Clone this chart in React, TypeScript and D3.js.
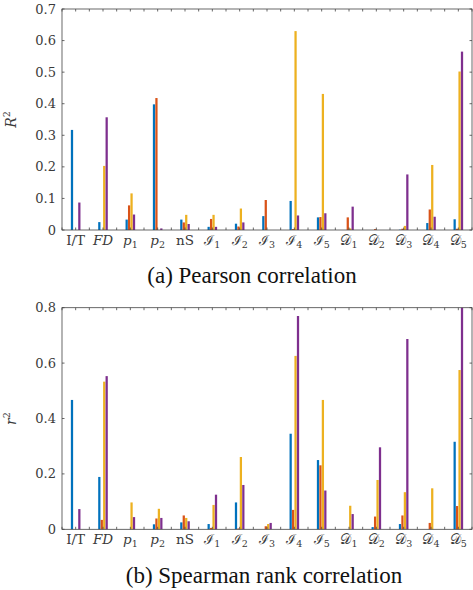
import * as d3 from 'd3';
import React from 'react';

const categories = ['I/T', 'FD', 'p1', 'p2', 'nS', 'I1', 'I2', 'I3', 'I4', 'I5', 'D1', 'D2', 'D3', 'D4', 'D5'];
const seriesKeys = ['s1', 's2', 's3', 's4'];
const colors = ['#0072BD', '#D95319', '#EDB120', '#7E2F8E'];

// Pearson R^2
const pearsonS1 = [0.317, 0.025, 0.033, 0.398, 0.033, 0.010, 0.020, 0.044, 0.092, 0.040, 0, 0, 0.001, 0.022, 0.034];
const pearsonS2 = [0, 0, 0.078, 0.418, 0.024, 0.035, 0.011, 0.095, 0.003, 0.041, 0.040, 0.003, 0.004, 0.065, 0.004];
const pearsonS3 = [0, 0.203, 0.116, 0, 0.048, 0.048, 0.068, 0, 0.630, 0.431, 0.005, 0, 0.013, 0.206, 0.502];
const pearsonS4 = [0.087, 0.357, 0.049, 0.005, 0.019, 0.010, 0.024, 0, 0.046, 0.053, 0.074, 0, 0.176, 0.042, 0.565];
const pearsonTicks = [0, 0.1, 0.2, 0.3, 0.4, 0.5, 0.6, 0.7];

// Spearman r^2
const spearmanS1 = [0.467, 0.189, 0, 0.018, 0.025, 0.019, 0.097, 0, 0.345, 0.250, 0, 0.008, 0.019, 0, 0.316];
const spearmanS2 = [0, 0.034, 0, 0.039, 0.050, 0.005, 0.003, 0.011, 0.070, 0.231, 0, 0.046, 0.050, 0.023, 0.084];
const spearmanS3 = [0, 0.533, 0.097, 0.074, 0.041, 0.088, 0.261, 0.019, 0.626, 0.467, 0.085, 0.178, 0.134, 0.148, 0.575];
const spearmanS4 = [0.073, 0.553, 0.044, 0.041, 0.029, 0.125, 0.160, 0.023, 0.770, 0.140, 0.055, 0.296, 0.687, 0, 0.800];
const spearmanTicks = [0, 0.2, 0.4, 0.6, 0.8];

const W = 473, H = 590;
const left = 62, right = 472;
const tickFont = '"DejaVu Serif", "Liberation Serif", serif';

const fmt = (v: number) => (v === 0 ? '0' : v.toFixed(1));

const CatLabel = ({ c, x, y }: { c: string; x: number; y: number }) => {
  const base = { x, y, textAnchor: 'middle' as const, fontFamily: tickFont, fontSize: 13.5, fill: '#3a3a3a' };
  if (c === 'I/T' || c === 'nS') return <text {...base}>{c}</text>;
  if (c === 'FD') return <text {...base} fontStyle="italic">FD</text>;
  const letter = c[0] === 'p' ? 'p' : c[0] === 'I' ? '\u2110' : '\uD835\uDC9F';
  return (
    <text {...base}>
      <tspan fontStyle={c[0] === 'p' ? 'italic' : 'normal'}>{letter}</tspan>
      <tspan fontSize={9.5} dy={3}>{c.slice(1)}</tspan>
    </text>
  );
};

const Chart = ({ data, ticks, yMax, top, bottom, ylab, caption, capX, capY }: any) => {
  const x0 = d3.scaleBand().domain(categories).range([left, right]).padding(0);
  const x1 = d3.scaleBand().domain(seriesKeys).range([-4.8, 4.8]).paddingInner(0.08);
  const y = d3.scaleLinear().domain([0, yMax]).range([bottom, top]);
  const halfTicks = d3.range(0, categories.length * 2 + 1).map(i => left + (i * x0.step()) / 2);
  const axis = '#444';
  return (
    <g>
      {categories.map((c, i) => (
        <g key={c}>
          {seriesKeys.map((k, j) => {
            const v = data[j][i];
            if (v <= 0) return null;
            const cx = (x0(c) as number) + x0.bandwidth() / 2;
            return (
              <rect key={k} x={cx + (x1(k) as number)} width={x1.bandwidth()}
                y={y(v)} height={bottom - y(v)} fill={colors[j]} />
            );
          })}
        </g>
      ))}
      <rect x={left} y={top} width={right - left} height={bottom - top} fill="none" stroke={axis} strokeWidth={0.8} />
      {halfTicks.map((t, i) => (
        <g key={i}>
          <line x1={t} x2={t} y1={bottom} y2={bottom - 2.5} stroke={axis} strokeWidth={0.8} />
          <line x1={t} x2={t} y1={top} y2={top + 2.5} stroke={axis} strokeWidth={0.8} />
        </g>
      ))}
      {ticks.map((t: number) => (
        <g key={t}>
          <line x1={left} x2={left + 2.5} y1={y(t)} y2={y(t)} stroke={axis} strokeWidth={0.8} />
          <line x1={right} x2={right - 2.5} y1={y(t)} y2={y(t)} stroke={axis} strokeWidth={0.8} />
          <text x={left - 6} y={y(t)} dy="0.35em" textAnchor="end"
            fontFamily={tickFont} fontSize={13} fill="#3a3a3a">{fmt(t)}</text>
        </g>
      ))}
      {categories.map(c => (
        <CatLabel key={c} c={c} x={(x0(c) as number) + x0.bandwidth() / 2} y={bottom + 15} />
      ))}
      <text transform={`translate(16,${(top + bottom) / 2}) rotate(-90)`} textAnchor="middle"
        fontFamily={tickFont} fontStyle="italic" fontSize={14} fill="#3a3a3a">
        {ylab}<tspan fontSize={9.5} fontStyle="normal" dy={-6}>2</tspan>
      </text>
      <text x={capX} y={capY} textAnchor="middle" fontFamily='"Liberation Serif", "Times New Roman", serif'
        fontSize={23} fill="#111">{caption}</text>
    </g>
  );
};

export default function App() {
  return (
    <svg width={W} height={H} style={{ position: 'absolute', left: 0, top: 0, background: '#fff' }}>
      <Chart data={[pearsonS1, pearsonS2, pearsonS3, pearsonS4]} ticks={pearsonTicks} yMax={0.7}
        top={9} bottom={230} ylab="R" caption="(a) Pearson correlation" capX={252} capY={283} />
      <Chart data={[spearmanS1, spearmanS2, spearmanS3, spearmanS4]} ticks={spearmanTicks} yMax={0.8}
        top={307.7} bottom={529.3} ylab="r" caption="(b) Spearman rank correlation" capX={264} capY={583} />
    </svg>
  );
}
